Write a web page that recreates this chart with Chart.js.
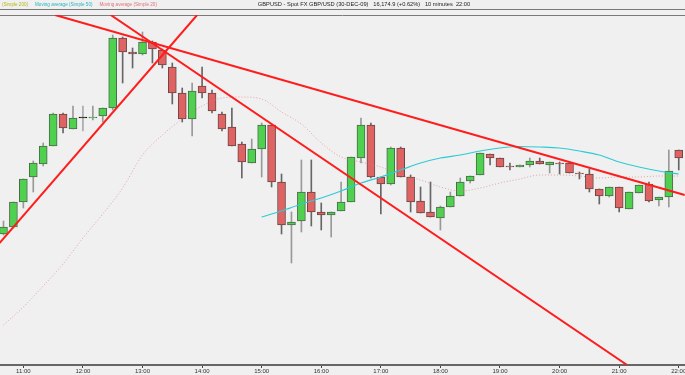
<!DOCTYPE html>
<html>
<head>
<meta charset="utf-8">
<script src="https://cdn.jsdelivr.net/npm/chart.js@4.4.1/dist/chart.umd.min.js"></script>
<style>
  html, body { margin: 0; padding: 0; background: #f0f0f0; }
  canvas { display: block; }
</style>
</head>
<body>
<canvas id="chart" width="685" height="375"></canvas>
<script>
// 10 minute candles, GBPUSD 30-DEC-09 (prices in the platform's 16,xxx.x format)
const times = ['10:40','10:50','11:00','11:10','11:20','11:30','11:40','11:50','12:00','12:10','12:20','12:30',
  '12:40','12:50','13:00','13:10','13:20','13:30','13:40','13:50','14:00','14:10','14:20','14:30',
  '14:40','14:50','15:00','15:10','15:20','15:30','15:40','15:50','16:00','16:10','16:20','16:30',
  '16:40','16:50','17:00','17:10','17:20','17:30','17:40','17:50','18:00','18:10','18:20','18:30',
  '18:40','18:50','19:00','19:10','19:20','19:30','19:40','19:50','20:00','20:10','20:20','20:30',
  '20:40','20:50','21:00','21:10','21:20','21:30','21:40','21:50','22:00'];

const opens = [16137,16140.5,16153,16165.5,16172,16181,16197,16189.5,16195,16195,
  16196,16200,16235,16228,16227,16233,16229,16220.5,16207.5,16194.5,
  16211,16207.5,16197,16190.5,16182,16172.5,16179.5,16191.5,16163,16141.5,
  16143.5,16158,16148,16146.5,16148.5,16153,16175,16191.5,16165.5,16162,
  16180,16165.5,16153.5,16148,16145,16150.5,16156,16163.5,16166.5,16177,
  16175,16171,16170.5,16171.5,16173.5,16171.5,16172.5,16172.5,16167.5,16167,
  16159.5,16156,16160.5,16149.5,16157.5,16162,16154,16155.5,16179];

const highs = [16143.5,16153,16164.5,16173.5,16182.5,16197.5,16197.5,16201,16201,16201,
  16200,16236.5,16235.5,16230,16238,16233.5,16229.5,16222.5,16210,16212.5,
  16220.5,16209,16198,16200,16183,16184.5,16192.5,16191.5,16167,16148,
  16174,16174,16152.5,16148,16163,16175.5,16195,16192.5,16165.5,16180.5,
  16180.5,16166.5,16160.5,16163,16151,16158,16165,16166,16177.5,16177,
  16175,16172.5,16171.5,16175,16175,16173,16173,16173,16168,16169.5,
  16159.5,16160.5,16160.5,16158,16161.5,16163,16155.5,16179,16179];

const lows = [16136.5,16140,16150,16158,16171,16181,16187.5,16189.5,16188.5,16194,
  16193,16199,16212.5,16220,16226.5,16222.5,16220,16202,16193,16186,
  16205,16197.5,16188.5,16181,16165,16172.5,16165.5,16160.5,16137,16122.5,
  16138,16141,16139,16135.5,16148.5,16153,16172.5,16165,16147,16161.5,
  16165.5,16148,16147.5,16145.5,16139,16150.5,16156,16162.5,16166.5,16171.5,
  16170.5,16169,16170.5,16170.5,16172,16167.5,16167,16167.5,16164.5,16158,
  16152,16155.5,16148,16149.5,16157.5,16153,16151,16150.5,16169];

const closes = [16140.5,16153,16164.5,16172.5,16181,16197,16190,16195,16195,16195.5,
  16200,16235,16228,16227,16233,16229.5,16221.5,16207.5,16194.5,16208.5,
  16207.5,16198.5,16189.5,16181,16173,16179.5,16191.5,16163,16141.5,16143,
  16158,16148,16146.5,16148,16153,16175.5,16191.5,16165.5,16162,16180,
  16165.5,16153,16147.5,16145.5,16150.5,16156,16163,16166,16177.5,16175,
  16170.5,16170.5,16171.5,16173.5,16172,16173,16172,16167.5,16167,16159.5,
  16156,16160.5,16150,16158,16161.5,16153.5,16155.5,16168.5,16175];

// moving average (simple 20), read every 20 minutes
const ma20Times = ['10:40','11:00','11:20','11:40','12:00','12:20','12:40','13:00','13:20','13:40',
  '14:00','14:20','14:40','15:00','15:20','15:40','16:00','16:20','16:40','17:00',
  '17:20','17:40','18:00','18:20','18:40','19:00','19:20','19:40','20:00','20:20',
  '20:40','21:00','21:20','21:40','22:00'];
const ma20 = [16091.5,16100.5,16111,16122,16135,16147,16160,16176.5,16186.5,16194.5,
  16201,16205,16205.5,16204.5,16198,16192,16182.5,16175.5,16173,16170.5,
  16166.5,16164,16160.5,16158.5,16160,16162.5,16164.5,16166.5,16166.5,16166,
  16165,16165.5,16165.5,16166,16166];

// moving average (simple 50)
const ma50Times = ['15:00','15:20','15:40','16:00','16:20','16:40','17:00','17:20','17:40','18:00',
  '18:20','18:40','19:00','19:20','19:40','20:00','20:20','20:40','21:00','21:20',
  '21:40','22:00'];
const ma50 = [16145.5,16148.5,16152,16155,16158.5,16162.5,16165.5,16169,16172.5,16175,
  16176.5,16178.5,16180,16180.75,16180.5,16180,16178.5,16176.5,16173,16170.5,
  16168.5,16167];

// hand drawn trend lines (start / end)
const trendTimes = [['10:36','13:55'], ['12:28','21:08'], ['11:32','22:06']];
const trendValues = [[16132.5,16246.5], [16246.5,16071.5], [16246.5,16156.5]];

const hourTicks = ['11:00','12:00','13:00','14:00','15:00','16:00','17:00','18:00','19:00','20:00','21:00','22:00'];

const titleText = 'GBPUSD - Spot FX GBP/USD (30-DEC-09)   16,174.9 (+0.62%)   10 minutes  22:00';
const legendItems = [
  { text: '(Simple 200)', color: '#b5b51a' },
  { text: 'Moving average (Simple 50)', color: '#22b4c4' },
  { text: 'Moving average (Simple 20)', color: '#e0707a' }
];

// turn 'HH:MM' into minutes since midnight
function toMin(t) {
  let p = t.split(':');
  return parseInt(p[0]) * 60 + parseInt(p[1]);
}

function pad2(n) {
  return (n < 10 ? '0' : '') + n;
}

const upFill = '#4fd04f';
const downFill = '#e06363';

let bodies = [];
let wicks = [];
let bodyColors = [];
let bodyBorders = [];
let wickColors = [];
times.forEach((t, i) => {
  bodies.push({ x: toMin(t), y: [opens[i], closes[i]] });
  wicks.push({ x: toMin(t), y: [lows[i], highs[i]] });
  if (closes[i] > opens[i]) {
    bodyColors.push(upFill);
    bodyBorders.push('#4a6a4a');
    wickColors.push('#999999');
  } else if (closes[i] < opens[i]) {
    bodyColors.push(downFill);
    bodyBorders.push('#6a4646');
    wickColors.push('#666666');
  } else {
    bodyColors.push('#111111');
    bodyBorders.push('#111111');
    wickColors.push('#aaaaaa');
  }
});

let trendSets = trendTimes.map((pair, k) => ({
  type: 'line',
  data: pair.map((t, j) => ({ x: toMin(t), y: trendValues[k][j] })),
  borderColor: '#ff1c1c',
  borderWidth: 2,
  pointRadius: 0,
  clip: 0,
  order: 0
}));

// header: legend strip, title and the two separator lines
const headerPlugin = {
  id: 'header',
  beforeDraw(chart) {
    const ctx = chart.ctx;
    ctx.save();
    ctx.fillStyle = '#f0f0f0';
    ctx.fillRect(0, 0, chart.width, chart.height);
    ctx.strokeStyle = '#7a7a7a';
    ctx.lineWidth = 1;
    ctx.beginPath();
    ctx.moveTo(0, 9.5); ctx.lineTo(chart.width, 9.5);
    ctx.moveTo(0, 15.5); ctx.lineTo(chart.width, 15.5);
    ctx.stroke();
    ctx.textBaseline = 'middle';
    ctx.font = '4.6px "Liberation Sans", Arial, sans-serif';
    let x = 2;
    legendItems.forEach(item => {
      ctx.fillStyle = item.color;
      ctx.fillText(item.text, x, 4.5);
      x += ctx.measureText(item.text).width + 7;
    });
    ctx.font = '5.7px "Liberation Sans", Arial, sans-serif';
    ctx.fillStyle = '#222222';
    ctx.textAlign = 'center';
    ctx.fillText(titleText, 364, 4.5);
    ctx.restore();
  }
};

new Chart(document.getElementById('chart'), {
  data: {
    datasets: [
      ...trendSets,
      {
        type: 'line',
        data: ma50Times.map((t, i) => ({ x: toMin(t), y: ma50[i] })),
        borderColor: '#2ccbd6',
        borderWidth: 1.2,
        pointRadius: 0,
        cubicInterpolationMode: 'monotone',
        order: 1
      },
      {
        type: 'line',
        data: ma20Times.map((t, i) => ({ x: toMin(t), y: ma20[i] })),
        borderColor: 'rgba(225, 120, 120, 0.65)',
        borderWidth: 1,
        borderDash: [1, 2],
        pointRadius: 0,
        cubicInterpolationMode: 'monotone',
        order: 1
      },
      {
        type: 'bar',
        data: bodies,
        backgroundColor: bodyColors,
        borderColor: bodyBorders,
        borderWidth: 1,
        borderSkipped: false,
        barThickness: 8,
        minBarLength: 1,
        grouped: false,
        order: 2
      },
      {
        type: 'bar',
        data: wicks,
        backgroundColor: wickColors,
        borderWidth: 0,
        barThickness: 1,
        grouped: false,
        order: 3
      }
    ]
  },
  options: {
    responsive: false,
    animation: false,
    layout: { padding: { top: 15, left: 0, right: 0, bottom: 0 } },
    plugins: {
      legend: { display: false },
      tooltip: { enabled: false }
    },
    scales: {
      x: {
        type: 'linear',
        offset: false,
        min: 636.5,
        max: 1326.3,
        afterBuildTicks: (scale) => {
          scale.ticks = hourTicks.map(t => ({ value: toMin(t) }));
        },
        afterFit: (scale) => {
          scale.height = 10;
          scale.paddingLeft = 0;
          scale.paddingRight = 0;
        },
        ticks: {
          autoSkip: false,
          maxRotation: 0,
          padding: 0,
          color: '#333333',
          font: { size: 6, family: '"Liberation Sans", Arial, sans-serif' },
          callback: (v) => pad2(Math.floor(v / 60)) + ':' + pad2(v % 60)
        },
        grid: {
          offset: false,
          drawOnChartArea: false,
          drawTicks: true,
          tickLength: 3,
          color: '#444444'
        },
        border: { display: true, color: '#666666', width: 2 }
      },
      y: {
        display: false,
        min: 16071.5,
        max: 16246.5
      }
    }
  },
  plugins: [headerPlugin]
});
</script>
</body>
</html>
